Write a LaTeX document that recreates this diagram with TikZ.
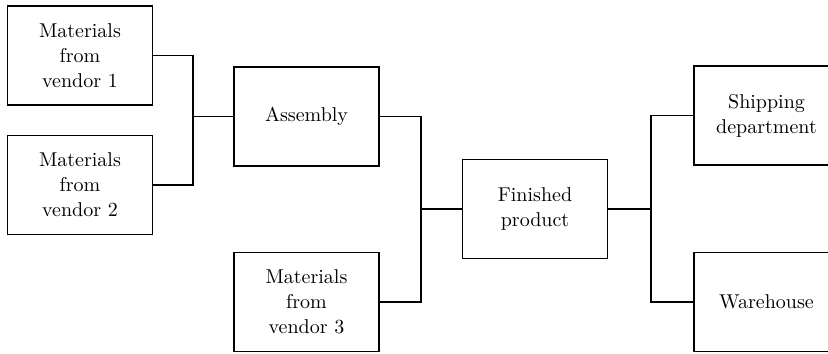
\documentclass[tikz,border=0pt]{standalone}
\usepackage{tikz}
\usetikzlibrary{positioning,calc}

\begin{document}
\begin{tikzpicture}[x=0.5pt, y=-0.5pt, every node/.style={align=center}]
    \tikzset{
      stagebox/.style={
        draw,
        line width=0.7pt,
        minimum width=72.5pt,
        minimum height=49.5pt,
        inner sep=3pt,
        font=\fontsize{10}{12.5}\selectfont
      },
      joinline/.style={line width=0.7pt}
    }
    \useasboundingbox (0,0) rectangle (828,353);
    \node[stagebox] (vendorA) at (80,55.5) {Materials\\from\\vendor 1};
    \node[stagebox] (vendorB) at (80,185) {Materials\\from\\vendor 2};
    \node[stagebox] (assembly) at (306.5,116.5) {Assembly};
    \node[stagebox] (vendorC) at (306.5,302) {Materials\\from\\vendor 3};
    \node[stagebox] (finished) at (535,209) {Finished\\product};
    \node[stagebox] (shipping) at (766.5,115.5) {Shipping\\department};
    \node[stagebox] (warehouse) at (766.5,302) {Warehouse};
    % junction points
    \coordinate (joinA) at (193,116.5);
    \coordinate (joinB) at (421,209);
    \coordinate (joinC) at (651,209);
    \draw[joinline] (vendorA.east) -| (joinA);
    \draw[joinline] (vendorB.east) -| (joinA);
    \draw[joinline] (joinA) -- (assembly.west);
    \draw[joinline] (assembly.east) -| (joinB);
    \draw[joinline] (vendorC.east) -| (joinB);
    \draw[joinline] (joinB) -- (finished.west);
    \draw[joinline] (finished.east) -- (joinC);
    \draw[joinline] (joinC) |- (shipping.west);
    \draw[joinline] (joinC) |- (warehouse.west);
  \end{tikzpicture}
\end{document}
